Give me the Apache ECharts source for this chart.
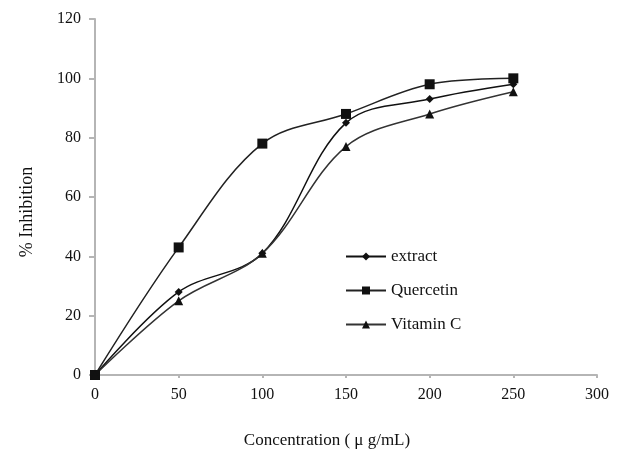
<!DOCTYPE html>
<html>
<head>
<meta charset="utf-8">
<script src="https://cdn.jsdelivr.net/npm/echarts@6/dist/echarts.min.js"></script>
<style>
  html, body { margin: 0; padding: 0; background: #fff; }
  #chart { width: 620px; height: 449px; }
</style>
</head>
<body>
<div id="chart"></div>
<script>
var concentrations = [0, 50, 100, 150, 200, 250];
var extractValues = [0, 28, 41, 85, 93, 98];
var quercetinValues = [0, 43, 78, 88, 98, 100];
var vitaminCValues = [0, 25, 41, 77, 88, 95.5];
var yTicks = [0, 20, 40, 60, 80, 100, 120];

function pairs(values) {
    return concentrations.map((c, i) => [c, values[i]]);
}

var chart = echarts.init(document.getElementById('chart'));
var fontFamily = '"Liberation Serif", "DejaVu Serif", serif';

var option = {
    backgroundColor: '#fff',
    animation: false,
    textStyle: { fontFamily: fontFamily },
    grid: { left: 95, right: 23, top: 19, bottom: 74, containLabel: false, outerBoundsMode: 'none' },
    legend: {
        orient: 'vertical',
        left: 340,
        top: 243,
        itemWidth: 40,
        itemHeight: 10,
        itemGap: 17,
        textStyle: { fontFamily: fontFamily, fontSize: 17, color: '#111' },
        data: ['extract', 'Quercetin', 'Vitamin C']
    },
    xAxis: {
        type: 'value',
        min: 0, max: 300, interval: 50,
        name: 'Concentration ( \u03bc g/mL)',
        nameLocation: 'middle',
        nameGap: 57,
        nameTextStyle: { fontFamily: fontFamily, fontSize: 17, color: '#111', padding: [0, 38, 0, 0] },
        axisLine: { lineStyle: { color: '#b5b5b5', width: 2 } },
        axisTick: { show: true, length: 3, lineStyle: { color: '#b5b5b5', width: 2 } },
        axisLabel: { fontFamily: fontFamily, fontSize: 16, color: '#111', margin: 12 },
        splitLine: { show: false }
    },
    yAxis: {
        type: 'value',
        min: yTicks[0], max: yTicks[yTicks.length - 1], interval: 20,
        name: '% Inhibition',
        nameLocation: 'middle',
        nameRotate: 90,
        nameGap: 59,
        nameTextStyle: { fontFamily: fontFamily, fontSize: 18, color: '#111', padding: [0, 30, 0, 0] },
        axisLine: { show: true, lineStyle: { color: '#b5b5b5', width: 2 } },
        axisTick: { show: true, length: 6, lineStyle: { color: '#b5b5b5', width: 2 } },
        axisLabel: { fontFamily: fontFamily, fontSize: 16, color: '#111', margin: 14 },
        splitLine: { show: false }
    },
    series: [
        {
            name: 'extract',
            type: 'line',
            data: pairs(extractValues),
            smooth: 0.35,
            symbol: 'diamond',
            symbolSize: 8,
            lineStyle: { color: '#111', width: 1.5 },
            itemStyle: { color: '#111' }
        },
        {
            name: 'Quercetin',
            type: 'line',
            data: pairs(quercetinValues),
            smooth: 0.35,
            symbol: 'rect',
            symbolSize: 10,
            lineStyle: { color: '#222', width: 1.5 },
            itemStyle: { color: '#111' }
        },
        {
            name: 'Vitamin C',
            type: 'line',
            data: pairs(vitaminCValues),
            smooth: 0.35,
            symbol: 'triangle',
            symbolSize: 9,
            lineStyle: { color: '#333', width: 1.5 },
            itemStyle: { color: '#111' }
        }
    ]
};

option && chart.setOption(option);
</script>
</body>
</html>
